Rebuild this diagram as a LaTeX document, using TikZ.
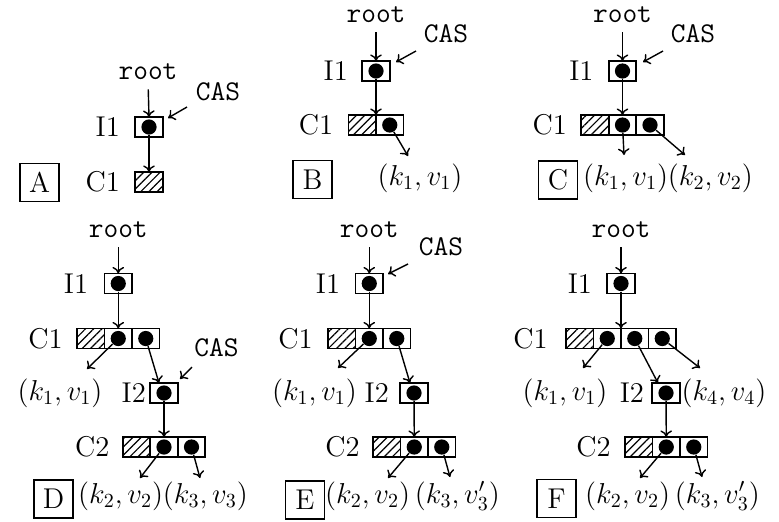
\documentclass[tikz,border=0pt]{standalone}
\usetikzlibrary{arrows.meta,patterns.meta}
\begin{document}
\begin{tikzpicture}[x=0.5pt,y=-0.5pt,
  font=\fontsize{14.3}{17}\selectfont,
  cell/.style={draw, line width=0.9pt, minimum width=13.75pt, minimum height=10pt, inner sep=0pt, outer sep=0pt},
  hcell/.style={cell, pattern={Lines[angle=45,distance=2.9pt,line width=0.6pt]}},
  ball/.style={circle, fill, inner sep=0pt, minimum size=7.6pt},
  lbl/.style={inner sep=0pt},
  ttl/.style={inner sep=0pt, font=\fontsize{14.3}{17}\selectfont\ttfamily},
  tag/.style={draw, line width=0.8pt, minimum width=19.5pt, minimum height=19pt, inner sep=0pt},
  arr/.style={line width=0.7pt, -{To[length=3.3pt,width=5.8pt]}},
  rootarr/.style={arr, shorten <=4.5pt}
]
\useasboundingbox (0,0) rectangle (779,521);

% ---------------- A ----------------
\node[ttl] (A-root) at (148,72) {root};
\node[cell] (A-i1) at (149,127) {};
\node[ball] (A-i1d) at (A-i1) {};
\node[hcell] (A-c1) at (149,182) {};
\node[lbl, anchor=east] (A-i1l) at ([xshift=-7.5pt]A-i1.west) {I1};
\node[lbl, anchor=east] (A-c1l) at ([xshift=-7.5pt]A-c1.west) {C1};
\node[ttl] (A-cas) at (218,92) {CAS};
\coordinate (A-cs) at (187,107);
\coordinate (A-ce) at (168,118);
\node[tag] (A-tag) at (39.5,182.5) {A};
\draw[rootarr] (A-root.south) -- (A-i1.north);
\draw[arr] (A-i1d) -- (A-c1.north);
\draw[arr] (A-cs) -- (A-ce);

% ---------------- B ----------------
\node[ttl] (B-root) at (376,15) {root};
\node[cell] (B-i1) at (376,71) {};
\node[ball] (B-i1d) at (B-i1) {};
\node[hcell] (B-c1a) at (362.25,125) {};
\node[cell] (B-c1b) at (389.75,125) {};
\node[ball] (B-c1bd) at (B-c1b) {};
\node[lbl, anchor=east] (B-i1l) at ([xshift=-7pt]B-i1.west) {I1};
\node[lbl, anchor=east] (B-c1l) at ([xshift=-7.5pt]B-c1a.west) {C1};
\node[ttl] (B-cas) at (446,34) {CAS};
\coordinate (B-cs) at (416,51);
\coordinate (B-ce) at (396,62);
\node[lbl] (B-kv1) at (420,178) {$(k_1,v_1)$};
\coordinate (B-e1) at (408,156);
\node[tag] (B-tag) at (312.5,179.5) {B};
\draw[rootarr] (B-root.south) -- (B-i1.north);
\draw[arr] (B-i1d) -- (B-c1a.north east);
\draw[arr] (B-c1bd) -- (B-e1);
\draw[arr] (B-cs) -- (B-ce);

% ---------------- C ----------------
\node[ttl] (C-root) at (622.5,15) {root};
\node[cell] (C-i1) at (622.5,71) {};
\node[ball] (C-i1d) at (C-i1) {};
\node[hcell] (C-c1a) at (595,125) {};
\node[cell] (C-c1b) at (622.5,125) {};
\node[cell] (C-c1c) at (650,125) {};
\node[ball] (C-c1bd) at (C-c1b) {};
\node[ball] (C-c1cd) at (C-c1c) {};
\node[lbl, anchor=east] (C-i1l) at ([xshift=-7.5pt]C-i1.west) {I1};
\node[lbl, anchor=east] (C-c1l) at ([xshift=-7pt]C-c1a.west) {C1};
\node[ttl] (C-cas) at (693,34) {CAS};
\coordinate (C-cs) at (663,51);
\coordinate (C-ce) at (643,62);
\coordinate (C-e1) at (624,155);
\coordinate (C-e2) at (685,155);
\node[lbl] (C-kv) at (668,178) {$(k_1,v_1)(k_2,v_2)$};
\node[tag] (C-tag) at (558,180) {C};
\draw[rootarr] (C-root.south) -- (C-i1.north);
\draw[arr] (C-i1d) -- (C-c1b.north);
\draw[arr] (C-c1bd) -- (C-e1);
\draw[arr] (C-c1cd) -- (C-e2);
\draw[arr] (C-cs) -- (C-ce);

% ---------------- D ----------------
\node[ttl] (D-root) at (118.25,230) {root};
\node[cell] (D-i1) at (118.25,283.5) {};
\node[ball] (D-i1d) at (D-i1) {};
\node[hcell] (D-c1a) at (90.75,338.5) {};
\node[cell] (D-c1b) at (118.25,338.5) {};
\node[cell] (D-c1c) at (145.75,338.5) {};
\node[ball] (D-c1bd) at (D-c1b) {};
\node[ball] (D-c1cd) at (D-c1c) {};
\node[cell] (D-i2) at (164,393) {};
\node[ball] (D-i2d) at (D-i2) {};
\node[hcell] (D-c2a) at (136.5,447) {};
\node[cell] (D-c2b) at (164,447) {};
\node[cell] (D-c2c) at (191.5,447) {};
\node[ball] (D-c2bd) at (D-c2b) {};
\node[ball] (D-c2cd) at (D-c2c) {};
\node[lbl, anchor=east] (D-i1l) at ([xshift=-8pt]D-i1.west) {I1};
\node[lbl, anchor=east] (D-c1l) at ([xshift=-7pt]D-c1a.west) {C1};
\node[lbl, anchor=east] (D-i2l) at ([xshift=-2pt]D-i2.west) {I2};
\node[lbl, anchor=east] (D-c2l) at ([xshift=-6.5pt]D-c2a.west) {C2};
\node[lbl] (D-kv1) at (60,393) {$(k_1,v_1)$};
\node[ttl] (D-cas) at (216.5,348) {CAS};
\coordinate (D-cs) at (192,367);
\coordinate (D-ce) at (180,379);
\coordinate (D-e1) at (87,369);
\coordinate (D-e2) at (140,478);
\coordinate (D-e3) at (200,478);
\node[lbl] (D-kv) at (163,496) {$(k_2,v_2)(k_3,v_3)$};
\node[tag] (D-tag) at (53.5,499) {D};
\draw[rootarr] (D-root.south) -- (D-i1.north);
\draw[arr] (D-i1d) -- (D-c1b.north);
\draw[arr] (D-c1bd) -- (D-e1);
\draw[arr] (D-c1cd) -- ([xshift=-2.5pt]D-i2.north);
\draw[arr] (D-i2d) -- (D-c2b.north);
\draw[arr] (D-c2bd) -- (D-e2);
\draw[arr] (D-c2cd) -- (D-e3);
\draw[arr] (D-cs) -- (D-ce);

% ---------------- E ----------------
\node[ttl] (E-root) at (369.25,230) {root};
\node[cell] (E-i1) at (369.25,283.5) {};
\node[ball] (E-i1d) at (E-i1) {};
\node[hcell] (E-c1a) at (341.75,338.5) {};
\node[cell] (E-c1b) at (369.25,338.5) {};
\node[cell] (E-c1c) at (396.75,338.5) {};
\node[ball] (E-c1bd) at (E-c1b) {};
\node[ball] (E-c1cd) at (E-c1c) {};
\node[cell] (E-i2) at (414,393) {};
\node[ball] (E-i2d) at (E-i2) {};
\node[hcell] (E-c2a) at (386.75,447) {};
\node[cell] (E-c2b) at (414.25,447) {};
\node[cell] (E-c2c) at (441.75,447) {};
\node[ball] (E-c2bd) at (E-c2b) {};
\node[ball] (E-c2cd) at (E-c2c) {};
\node[lbl, anchor=east] (E-i1l) at ([xshift=-7.5pt]E-i1.west) {I1};
\node[lbl, anchor=east] (E-c1l) at ([xshift=-7.5pt]E-c1a.west) {C1};
\node[lbl, anchor=east] (E-i2l) at ([xshift=-5.5pt]E-i2.west) {I2};
\node[lbl, anchor=east] (E-c2l) at ([xshift=-6.5pt]E-c2a.west) {C2};
\node[lbl] (E-kv1) at (314.5,393) {$(k_1,v_1)$};
\node[ttl] (E-cas) at (441,247) {CAS};
\coordinate (E-cs) at (408,264);
\coordinate (E-ce) at (388,274);
\coordinate (E-e1) at (338,368);
\coordinate (E-e2) at (388,478);
\coordinate (E-e3) at (450,477);
\node[lbl] (E-kv) at (412.5,496) {$(k_2,v_2)\,(k_3,v'_3)$};
\node[tag] (E-tag) at (305,500) {E};
\draw[rootarr] (E-root.south) -- (E-i1.north);
\draw[arr] (E-i1d) -- (E-c1b.north);
\draw[arr] (E-c1bd) -- (E-e1);
\draw[arr] (E-c1cd) -- ([xshift=-2pt]E-i2.north);
\draw[arr] (E-i2d) -- (E-c2b.north);
\draw[arr] (E-c2bd) -- (E-e2);
\draw[arr] (E-c2cd) -- (E-e3);
\draw[arr] (E-cs) -- (E-ce);

% ---------------- F ----------------
\node[ttl] (F-root) at (621,230) {root};
\node[cell] (F-i1) at (621,283.5) {};
\node[ball] (F-i1d) at (F-i1) {};
\node[hcell] (F-c1a) at (579.75,338.5) {};
\node[cell] (F-c1b) at (607.25,338.5) {};
\node[cell] (F-c1c) at (634.75,338.5) {};
\node[cell] (F-c1d) at (662.25,338.5) {};
\node[ball] (F-c1bd) at (F-c1b) {};
\node[ball] (F-c1cd) at (F-c1c) {};
\node[ball] (F-c1dd) at (F-c1d) {};
\node[cell] (F-i2) at (666,393) {};
\node[ball] (F-i2d) at (F-i2) {};
\node[hcell] (F-c2a) at (638.75,447) {};
\node[cell] (F-c2b) at (666.25,447) {};
\node[cell] (F-c2c) at (693.75,447) {};
\node[ball] (F-c2bd) at (F-c2b) {};
\node[ball] (F-c2cd) at (F-c2c) {};
\node[lbl, anchor=east] (F-i1l) at ([xshift=-7.5pt]F-i1.west) {I1};
\node[lbl, anchor=east] (F-c1l) at ([xshift=-9pt]F-c1a.west) {C1};
\node[lbl, anchor=east] (F-i2l) at ([xshift=-4pt]F-i2.west) {I2};
\node[lbl, anchor=east] (F-c2l) at ([xshift=-7pt]F-c2a.west) {C2};
\node[lbl] (F-kv1) at (565,393) {$(k_1,v_1)$};
\node[lbl] (F-kv4) at (724,393) {$(k_4,v_4)$};
\coordinate (F-e1) at (583,368);
\coordinate (F-e4) at (700,368);
\coordinate (F-e2) at (640,478);
\coordinate (F-e3) at (702,477);
\node[lbl] (F-kv) at (672.5,496) {$(k_2,v_2)\,(k_3,v'_3)$};
\node[tag] (F-tag) at (556.5,498.5) {F};
\draw[rootarr] (F-root.south) -- (F-i1.north);
\draw[arr] (F-i1d) -- (F-c1b.north east);
\draw[arr] (F-c1bd) -- (F-e1);
\draw[arr] (F-c1cd) -- ([xshift=-4pt]F-i2.north);
\draw[arr] (F-c1dd) -- (F-e4);
\draw[arr] (F-i2d) -- (F-c2b.north);
\draw[arr] (F-c2bd) -- (F-e2);
\draw[arr] (F-c2cd) -- (F-e3);
\end{tikzpicture}
\end{document}
